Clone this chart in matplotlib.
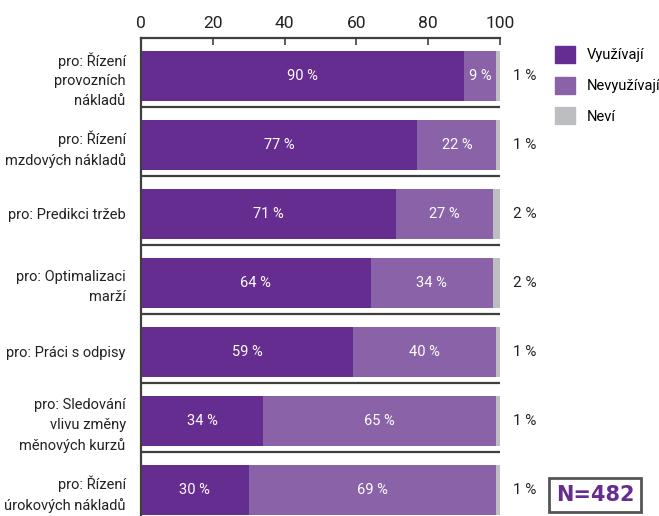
import numpy as np
import matplotlib
matplotlib.use("Agg")
import matplotlib.pyplot as plt
from matplotlib.patches import Patch

categories = [
    "pro: Řízení\nprovozních\nnákladů",
    "pro: Řízení\nmzdových nákladů",
    "pro: Predikci tržeb",
    "pro: Optimalizaci\nmarží",
    "pro: Práci s odpisy",
    "pro: Sledování\nvlivu změny\nměnových kurzů",
    "pro: Řízení\núrokových nákladů",
]
vyuzivaji = [90, 77, 71, 64, 59, 34, 30]
nevyuzivaji = [9, 22, 27, 34, 40, 65, 69]
nevi = [1, 1, 2, 2, 1, 1, 1]
series_names = ["Využívají", "Nevyužívají", "Neví"]
ticks = [0, 20, 40, 60, 80, 100]
n_label = "N=482"

c_dark = "#652d90"
c_light = "#8a62a8"
c_grey = "#bdbec1"
c_line = "#3f3f3f"

plt.rcParams['font.family'] = ['Roboto', 'DejaVu Sans']

fig = plt.figure(figsize=(6.59, 5.16), dpi=100)
ax = fig.add_axes([141/659, 0, (500-141)/659, 1 - 38/516])

y = np.arange(len(categories)) + 0.05
h = 0.72
v = np.array(vyuzivaji)
nv = np.array(nevyuzivaji)
nn = np.array(nevi)

ax.barh(y, v, height=h, color=c_dark)
ax.barh(y, nv, left=v, height=h, color=c_light)
ax.barh(y, nn, left=v + nv, height=h, color=c_grey)

for i in range(len(categories)):
    ax.text(v[i] / 2, y[i], f"{v[i]} %", color="white", ha="center", va="center", fontsize=10.5)
    ax.text(v[i] + nv[i] / 2, y[i], f"{nv[i]} %", color="white", ha="center", va="center", fontsize=10.5)
    ax.text(103.5, y[i], f"{nn[i]} %", color="#222222", ha="left", va="center", fontsize=11,
            clip_on=False)

# separators between rows
for i in range(len(categories) - 1):
    ax.plot([0, 100], [i + 0.5, i + 0.5], color=c_line, lw=1.6, solid_capstyle="butt")

ax.set_xlim(0, 100)
ax.set_ylim(6.43, -0.5)
ax.set_yticks(y)
ax.set_yticklabels(categories, fontsize=10.5, color="#222222", linespacing=1.5)
ax.tick_params(axis="y", length=0, pad=11)
ax.xaxis.tick_top()
ax.set_xticks(ticks)
ax.tick_params(axis="x", direction="in", length=5, width=1.2, color=c_line,
               labelsize=12.5, labelcolor="#222222", pad=5)

ax.spines["right"].set_visible(False)
ax.spines["bottom"].set_visible(False)
ax.spines["top"].set_color(c_line)
ax.spines["left"].set_color(c_line)
ax.spines["top"].set_linewidth(1.6)
ax.spines["left"].set_linewidth(1.6)

handles = [Patch(color=c) for c in (c_dark, c_light, c_grey)]
fig.legend(handles, series_names, loc="upper left", bbox_to_anchor=(555/659, 1 - 46/516),
           frameon=False, fontsize=10.5, handlelength=1.4, handleheight=1.4,
           handletextpad=0.75, labelspacing=0.95, borderaxespad=0, borderpad=0)

fig.text(595/659, 1 - 495/516, n_label, color=c_dark, fontsize=15, fontweight="bold",
         ha="center", va="center", family=["DejaVu Sans"],
         bbox=dict(boxstyle="square,pad=0.33", fc="white", ec="#555555", lw=2))

fig.savefig("out.png", dpi=100)
